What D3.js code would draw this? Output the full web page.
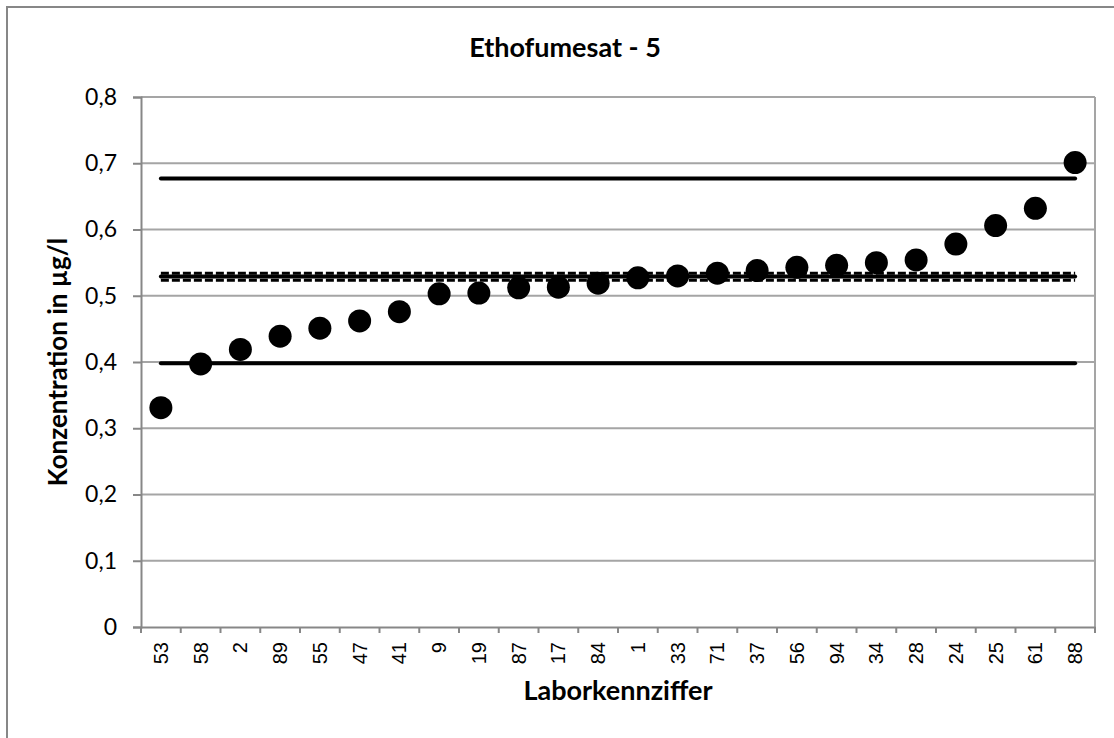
<!DOCTYPE html>
<html><head><meta charset="utf-8">
<script src="https://cdn.jsdelivr.net/npm/d3@7"></script>
<style>body{margin:0;background:#fff}svg{display:block}</style>
</head><body>
<svg id="c" width="1114" height="738"></svg>
<script>
const labs = ["53","58","2","89","55","47","41","9","19","87","17","84","1","33","71","37","56","94","34","28","24","25","61","88"];
const values = [0.331,0.397,0.419,0.439,0.451,0.462,0.476,0.503,0.504,0.512,0.513,0.519,0.527,0.530,0.534,0.538,0.543,0.546,0.550,0.554,0.578,0.606,0.632,0.701];
const yTicks = [0,0.1,0.2,0.3,0.4,0.5,0.6,0.7,0.8];
const solidRefs = [0.398,0.529,0.677];
const dashedRefs = [0.5235,0.534];
const title = "Ethofumesat - 5";
const xTitle = "Laborkennziffer";
const yTitle = "Konzentration in µg/l";

const svg = d3.select("#c");
const L=141,R=1095,T=97,B=627;
const x = d3.scaleBand().domain(labs).range([L,R]);
const y = d3.scaleLinear().domain([0,0.8]).range([B,T]);
const fmt = d => d===0 ? "0" : d3.format(".1f")(d).replace(".",",");

svg.append("rect").attr("x",7).attr("y",7).attr("width",1120).attr("height",740)
  .attr("fill","#fff").attr("stroke","#878787").attr("stroke-width",2);

// gridlines
svg.append("g").selectAll("line").data(yTicks.filter(d=>d>0)).join("line")
  .attr("x1",L).attr("x2",R).attr("y1",d=>y(d)).attr("y2",d=>y(d))
  .attr("stroke","#a5a5a5").attr("stroke-width",2);
// right border
svg.append("line").attr("x1",R).attr("x2",R).attr("y1",T).attr("y2",B).attr("stroke","#a5a5a5").attr("stroke-width",2);

// y axis
const ya = svg.append("g").attr("transform",`translate(${L},0)`)
  .call(d3.axisLeft(y).tickValues(yTicks).tickFormat(fmt).tickSize(8).tickPadding(16));
ya.select(".domain").attr("stroke","#878787").attr("stroke-width",2);
ya.selectAll(".tick line").attr("stroke","#878787").attr("stroke-width",2);
ya.selectAll("text").attr("font-family","Lato").attr("font-size","23px").attr("fill","#000");

// x axis
const xa = svg.append("g").attr("transform",`translate(0,${B})`)
  .call(d3.axisBottom(x).tickSize(0));
xa.select(".domain").attr("stroke","#878787").attr("stroke-width",2);
xa.selectAll(".tick line").remove();
xa.selectAll(".tick text").attr("font-family","Liberation Sans, Arial").attr("font-size","20px").attr("fill","#000")
  .attr("transform","rotate(-90)").attr("text-anchor","end").attr("dy","0.35em").attr("x",-15).attr("y",0);
// category boundary ticks
const bounds = labs.map(d=>x(d)).concat([R]);
svg.append("g").selectAll("line").data(bounds).join("line")
  .attr("x1",d=>d).attr("x2",d=>d).attr("y1",B).attr("y2",B+6)
  .attr("stroke","#878787").attr("stroke-width",2);

const bw = x.bandwidth();
const x0 = x(labs[0])+bw/2, x1 = x(labs[labs.length-1])+bw/2;
// dashed reference lines
svg.append("g").selectAll("line").data(dashedRefs).join("line")
  .attr("x1",x0).attr("x2",x1).attr("y1",d=>y(d)).attr("y2",d=>y(d))
  .attr("stroke","#000").attr("stroke-width",3).attr("stroke-dasharray","8,3");
// solid reference lines
svg.append("g").selectAll("line").data(solidRefs).join("line")
  .attr("x1",x0).attr("x2",x1).attr("y1",d=>y(d)).attr("y2",d=>y(d))
  .attr("stroke","#000").attr("stroke-width",4).attr("stroke-linecap","round");

// points
svg.append("g").selectAll("circle").data(values).join("circle")
  .attr("cx",(d,i)=>x(labs[i])+bw/2).attr("cy",d=>y(d)).attr("r",11.5).attr("fill","#000");

// titles
svg.append("text").attr("x",565).attr("y",57).attr("text-anchor","middle")
  .attr("font-family","Lato").attr("font-weight","bold").attr("font-size","27px").text(title);
svg.append("text").attr("x",618).attr("y",700).attr("text-anchor","middle")
  .attr("font-family","Lato").attr("font-weight","bold").attr("font-size","27px").text(xTitle);
svg.append("text").attr("transform",`translate(67,${(T+B)/2}) rotate(-90)`).attr("text-anchor","middle")
  .attr("font-family","Lato").attr("font-weight","bold").attr("font-size","26px").text(yTitle);
</script>
</body></html>
